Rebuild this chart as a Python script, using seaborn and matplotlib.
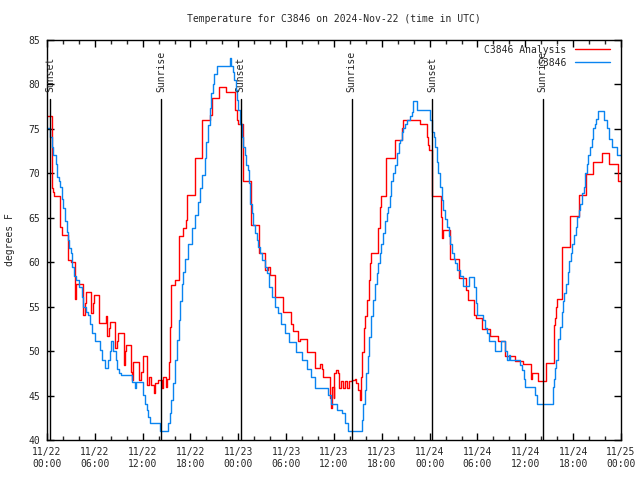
import pandas as pd
import numpy as np
import matplotlib
matplotlib.use('Agg')
import matplotlib.pyplot as plt
import matplotlib.dates as mdates
import seaborn as sns

# hours since 2024-11-22 00:00 UTC, step values
station_hr = [0.0, 0.4, 0.6, 0.8, 1.1, 1.3, 1.5, 1.65, 1.85, 2.05, 2.25, 2.45, 2.6, 2.75, 2.95,
              3.15, 3.4, 3.7, 4.05, 4.35, 4.55, 4.85, 5.2, 5.4, 5.6, 6.0, 6.65, 6.95, 7.25, 7.7,
              7.9, 8.05, 8.3, 8.6, 8.8, 9.0, 9.3, 10.6, 11.1, 11.2, 12.0, 12.25, 12.5, 12.7, 12.9,
              14.2, 15.2, 15.4, 15.6, 15.85, 16.05, 16.3, 16.5, 16.7, 16.9, 17.1, 17.3, 17.7, 18.2,
              18.6, 18.9, 19.2, 19.4, 19.8, 20.0, 20.2, 20.45, 20.6, 20.8, 21.0, 21.3, 22.9, 23.1,
              23.3, 23.5, 23.65, 23.8, 24.0, 24.2, 24.4, 24.6, 24.8, 25.0, 25.2, 25.3, 25.5, 25.7,
              25.9, 26.1, 26.3, 26.5, 26.7, 27.0, 27.3, 27.6, 27.8, 28.2, 28.6, 29.0, 29.4, 29.8,
              30.3, 31.2, 32.0, 32.6, 33.1, 33.6, 35.25, 35.6, 36.35, 37.0, 37.4, 37.7, 39.45, 39.65,
              39.85, 40.05, 40.25, 40.45, 40.65, 40.85, 41.1, 41.35, 41.55, 41.75, 41.95, 42.15, 42.4,
              42.6, 42.8, 43.0, 43.2, 43.45, 43.7, 43.9, 44.1, 44.3, 44.5, 44.7, 44.9, 45.1, 45.5,
              45.75, 45.95, 46.4, 48.05, 48.3, 48.5, 48.7, 48.9, 49.1, 49.3, 49.5, 49.7, 49.9, 50.15,
              50.4, 50.6, 50.8, 51.0, 51.2, 51.4, 51.8, 52.2, 52.9, 53.5, 53.8, 54.0, 54.7, 54.9,
              55.2, 55.5, 56.2, 56.95, 57.5, 57.75, 58.0, 58.1, 59.35, 59.6, 59.8, 60.0, 61.2, 61.5,
              63.45, 63.6, 63.7, 63.9, 64.1, 64.35, 64.55, 64.7, 64.9, 65.1, 65.3, 65.5, 65.7, 65.9,
              66.1, 66.3, 66.5, 66.7, 66.9, 67.1, 67.3, 67.5, 67.7, 67.9, 68.1, 68.3, 68.5, 68.7,
              68.9, 69.1, 69.85, 70.2, 70.5, 70.9, 71.5, 72.0]
station_temp = [75.1, 74.1, 73.0, 72.1, 71.1, 69.6, 69.1, 68.5, 67.1, 66.1, 64.6, 63.4, 62.5, 61.6, 61.0,
                59.5, 58.4, 58.0, 57.2, 56.1, 55.0, 54.4, 54.1, 53.1, 52.0, 51.1, 50.1, 49.0, 48.1, 49.0,
                50.0, 51.1, 50.0, 49.0, 48.0, 47.5, 47.3, 46.5, 45.8, 46.5, 45.1, 44.1, 43.4, 42.6, 41.9,
                41.0, 41.9, 43.0, 44.5, 46.4, 49.0, 51.3, 53.5, 55.6, 57.5, 58.9, 60.4, 62.0, 63.8,
                65.3, 66.8, 68.3, 69.8, 71.7, 73.5, 75.4, 77.3, 79.0, 80.1, 81.2, 82.1, 83.0, 82.1,
                81.4, 80.5, 79.4, 78.3, 77.1, 75.6, 74.1, 73.0, 72.1, 70.9, 70.4, 68.9, 66.6, 65.5,
                64.2, 63.25, 62.5, 61.75, 61.0, 60.25, 59.5, 58.75, 57.25, 56.1, 55.0, 54.25, 53.1, 52.0,
                51.0, 49.9, 49.0, 48.0, 47.1, 45.9, 45.1, 44.1, 43.4, 43.0, 41.9, 41.0, 42.25, 44.1,
                45.6, 47.5, 49.4, 51.6, 53.9, 55.75, 57.6, 58.75, 59.9, 61.0, 62.1, 63.25, 64.6,
                65.5, 66.25, 67.4, 69.1, 70.0, 70.9, 72.25, 73.4, 73.75, 74.7, 75.1, 75.6, 76.0, 76.4,
                76.9, 78.1, 77.1, 76.0, 74.7, 74.1, 73.0, 71.3, 70.0, 68.5, 67.0, 65.9, 64.9, 64.0,
                62.9, 62.1, 61.0, 60.4, 59.9, 59.1, 58.5, 57.3, 58.3, 57.2, 55.4, 54.1, 53.5, 52.6,
                52.0, 51.1, 50.0, 51.1, 50.0, 49.0, 49.6, 49.0, 48.4, 47.9, 46.9, 46.0, 45.1, 44.0,
                46.0, 46.9, 48.1, 49.0, 51.4, 52.75, 54.4, 55.6, 56.5, 57.6, 58.9, 60.1, 61.0, 62.1,
                63.1, 64.0, 65.1, 65.9, 66.6, 67.75, 68.5, 70.0, 71.1, 72.1, 73.0, 73.9, 75.1, 75.6,
                76.1, 77.0, 76.0, 75.1, 73.9, 73.0, 72.1, 72.1]

analysis_hr = [0.0, 0.6, 0.8, 0.9, 1.6, 1.9, 2.6, 3.0, 3.5, 3.65, 4.55, 4.75, 4.95, 5.55, 5.75, 5.9,
               6.55, 7.35, 7.5, 7.75, 7.95, 8.55, 8.75, 8.9, 9.6, 9.8, 9.95, 10.55, 10.7, 10.85, 11.5,
               11.8, 12.0, 12.55, 12.75, 13.05, 13.4, 13.5, 13.95, 14.45, 14.6, 14.95, 15.1, 15.25,
               15.4, 15.6, 16.0, 16.5, 16.6, 17.05, 17.45, 17.55, 18.55, 19.5, 20.4, 20.7, 21.55,
               22.5, 23.55, 23.8, 24.0, 24.6, 25.55, 26.55, 27.35, 27.75, 27.95, 28.6, 29.6, 30.55,
               30.8, 31.5, 31.7, 32.65, 33.65, 34.3, 34.45, 34.65, 35.45, 35.6, 35.75, 35.95, 36.05,
               36.25, 36.45, 36.65, 36.85, 37.15, 37.35, 37.65, 37.85, 38.2, 38.6, 38.8, 39.05, 39.2,
               39.35, 39.55, 39.75, 39.95, 40.15, 40.35, 40.5, 40.7, 41.55, 41.75, 41.9, 42.55, 43.65,
               44.55, 44.7, 46.75, 47.65, 47.85, 47.95, 48.3, 49.45, 49.55, 49.65, 50.55, 51.65, 52.6,
               52.75, 53.55, 53.8, 54.55, 55.55, 56.55, 57.45, 58.65, 59.7, 60.65, 60.85, 61.55, 62.6,
               63.55, 63.75, 63.9, 64.0, 64.65, 65.65, 66.7, 67.55, 68.55, 69.6, 70.55, 71.6, 72.0]
analysis_temp = [76.4, 68.3, 67.9, 67.4, 64.0, 63.1, 60.25, 60.0, 55.9, 57.6, 54.1, 55.4, 56.7, 54.25, 55.4, 56.3,
                 53.2, 53.9, 51.7, 52.6, 53.3, 50.3, 51.1, 52.0, 48.4, 50.0, 50.7, 47.7, 46.75, 48.8, 46.75,
                 47.7, 49.4, 46.2, 47.1, 46.2, 45.25, 46.4, 46.75, 45.9, 47.1, 46.0, 46.9, 48.8,
                 52.75, 57.4, 58.0, 61.0, 62.9, 63.8, 64.75, 67.6, 71.7, 76.0, 76.6, 78.5, 79.7,
                 79.1, 77.1, 76.0, 75.6, 69.1, 64.2, 61.0, 59.1, 59.5, 58.6, 56.1, 54.4, 53.1,
                 52.3, 51.1, 51.4, 49.9, 48.1, 48.6, 48.0, 47.1, 44.7, 43.6, 46.0, 44.7, 47.5,
                 47.9, 47.5, 45.8, 46.6, 45.8, 46.6, 45.8, 46.6, 46.75, 46.9, 46.4, 45.6, 44.5,
                 47.1, 49.9, 52.6, 53.9, 55.75, 58.0, 59.9, 61.0, 63.8, 66.25, 67.4, 71.7, 73.75,
                 75.1, 76.0, 75.6, 74.1, 73.2, 72.6, 67.4, 65.1, 62.7, 63.6, 60.4, 58.2, 56.9,
                 55.75, 54.1, 53.7, 52.45, 51.7, 51.1, 49.4, 48.9, 48.6, 46.9, 47.5, 46.6, 48.7,
                 52.9, 53.7, 55.0, 55.9, 61.75, 65.2, 67.6, 69.9, 71.3, 72.25, 71.0, 69.1, 69.1]

sun_hr = [0.41, 14.3, 24.3, 38.2, 48.3, 62.2]
sun_labels = ['Sunset', 'Sunrise', 'Sunset', 'Sunrise', 'Sunset', 'Sunrise']

start = pd.Timestamp('2024-11-22 00:00')


def to_time(hours):
    return start + pd.to_timedelta(np.array(hours), unit='h')


sns.set_style('ticks')
plt.rcParams['font.family'] = ['DejaVu Sans Mono']
plt.rcParams['font.size'] = 7

fig = plt.figure(figsize=(6.4, 4.8), dpi=100)
ax = fig.add_axes([47 / 640, 40 / 480, 574 / 640, 400 / 480])

sns.lineplot(x=to_time(analysis_hr), y=analysis_temp, drawstyle='steps-post', estimator=None,
             color='#ff0000', linewidth=1.0, label='C3846 Analysis', ax=ax)
sns.lineplot(x=to_time(station_hr), y=station_temp, drawstyle='steps-post', estimator=None,
             color='#0a84f0', linewidth=1.0, label='C3846', ax=ax)

# sunrise / sunset markers
for h, lab in zip(sun_hr, sun_labels):
    t = to_time([h])[0]
    ax.axvline(t, ymin=0, ymax=0.853, color='black', linewidth=1.0)
    ax.text(t, 0.87, lab, rotation=90, ha='center', va='bottom',
            transform=ax.get_xaxis_transform(), fontsize=7)

ax.set_xlim(start, start + pd.Timedelta(hours=72))
ax.set_ylim(40, 85)
ax.set_yticks(range(40, 86, 5))
ax.xaxis.set_major_locator(mdates.HourLocator(byhour=[0, 6, 12, 18]))
ax.xaxis.set_minor_locator(mdates.HourLocator(byhour=range(0, 24, 2)))
ax.xaxis.set_major_formatter(mdates.DateFormatter('%m/%d\n%H:%M'))
ax.tick_params(which='major', direction='in', length=5, width=1, top=True, right=True,
               labelsize=7, color='black', pad=5)
ax.tick_params(which='minor', direction='in', length=3, width=1, top=True, right=False)
for s in ax.spines.values():
    s.set_visible(True)
    s.set_color('black')
    s.set_linewidth(1.0)
ax.set_xlabel('')
ax.set_ylabel('')

ax.legend(loc='upper right', markerfirst=False, frameon=False, fontsize=7,
          handlelength=3.6, handletextpad=0.9, labelspacing=0.3,
          borderaxespad=0.1, bbox_to_anchor=(0.99, 1.0))

fig.text(334 / 640, 1 - 19 / 480, 'Temperature for C3846 on 2024-Nov-22 (time in UTC)',
         ha='center', va='center', fontsize=7)
fig.text(10 / 640, 0.5, 'degrees F', rotation=90, ha='center', va='center', fontsize=7)

fig.savefig('out.png', dpi=100)
